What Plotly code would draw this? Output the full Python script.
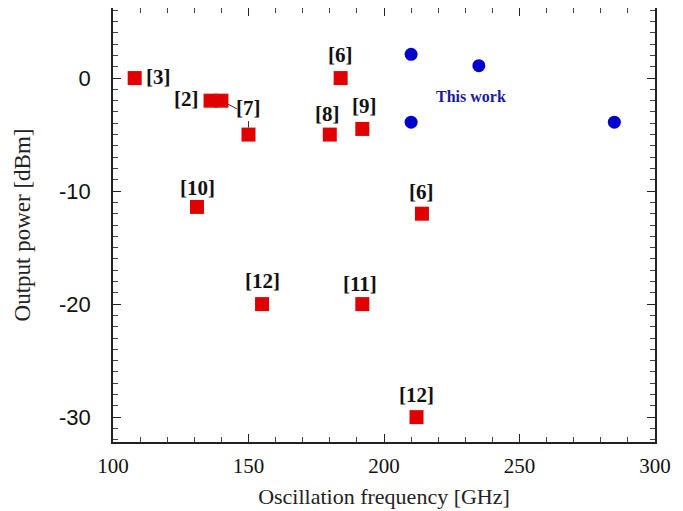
import plotly.graph_objects as go

# Reference works (red squares)
ref_freq = [108, 136, 140, 150, 184, 180, 192, 131, 214, 155, 192, 212]
ref_power = [0, -2, -2, -5, 0, -5, -4.5, -11.4, -12, -20, -20, -30]
ref_labels = ["[3]", "[2]", "", "[7]", "[6]", "[8]", "[9]", "[10]", "[6]", "[12]", "[11]", "[12]"]
# pixel offsets of each label relative to its marker (x, y)
label_dx = [24, -24, 0, 0, 0, -2, 2, 0, 0, 0, -2, 0]
label_dy = [1, 2, 0, 27, 23, 21, 23, 19, 22, 23, 20, 22]

# This work (blue circles)
tw_freq = [210, 235, 210, 285]
tw_power = [2.1, 1.1, -3.9, -3.9]

serif = "Liberation Serif, Times New Roman, serif"
sans = "Liberation Sans, Arial, sans-serif"

fig = go.Figure()
fig.add_trace(go.Scatter(x=ref_freq, y=ref_power, mode="markers",
                         marker=dict(symbol="square", size=14, color="#e00000"),
                         showlegend=False))
fig.add_trace(go.Scatter(x=tw_freq, y=tw_power, mode="markers",
                         marker=dict(symbol="circle", size=13, color="#0000cc"),
                         showlegend=False))

for x, y, t, dx, dy in zip(ref_freq, ref_power, ref_labels, label_dx, label_dy):
    if not t:
        continue
    if t == "[7]":
        fig.add_annotation(x=x, y=y, text="<b>[7]</b>", showarrow=True, ax=0, ay=-dy,
                           arrowhead=0, arrowwidth=1, arrowcolor="#333", standoff=7,
                           font=dict(family=serif, size=21, color="#111"))
    else:
        fig.add_annotation(x=x, y=y, text=f"<b>{t}</b>", showarrow=False, xshift=dx, yshift=dy,
                           font=dict(family=serif, size=21, color="#111"))

# connector from [2] to [7]
fig.add_annotation(x=ref_freq[2], y=ref_power[2], text="", showarrow=True, ax=17, ay=9,
                   arrowhead=0, arrowwidth=1, arrowcolor="#333", standoff=7)

fig.add_annotation(x=232, y=-1.6, text="<b>This work</b>", showarrow=False,
                   font=dict(family=serif, size=16, color="#1a1aa0"))

# page body has an 8px margin in the browser; margins compensate for it
fig.update_layout(
    width=683, height=511,
    margin=dict(l=105, r=36, t=0, b=77, autoexpand=False),
    plot_bgcolor="white", paper_bgcolor="white",
)
fig.update_xaxes(range=[100, 300], tickvals=[100, 150, 200, 250, 300],
                 ticks="inside", ticklen=8, tickcolor="#222", mirror="allticks",
                 showline=True, linecolor="#222", linewidth=1.5, showgrid=False, zeroline=False,
                 minor=dict(dtick=10, ticks="inside", ticklen=5, tickcolor="#444"),
                 tickfont=dict(family=serif, size=21, color="#111"), ticklabelstandoff=4,
                 automargin=False,
                 title=dict(text="Oscillation frequency [GHz]", font=dict(family=serif, size=22, color="#222"), standoff=12))
fig.update_yaxes(range=[-32.2, 6.2], tickvals=[0, -10, -20, -30], ticktext=["0", "-10", "-20", "-30"],
                 ticks="inside", ticklen=8, tickcolor="#222", mirror="allticks",
                 showline=True, linecolor="#222", linewidth=1.5, showgrid=False, zeroline=False,
                 minor=dict(dtick=1, ticks="inside", ticklen=5, tickcolor="#444"),
                 tickfont=dict(family=sans, size=22, color="#111"), ticklabelstandoff=16,
                 automargin=False,
                 title=dict(text="Output power [dBm]", font=dict(family=serif, size=23, color="#222"), standoff=22))

fig.write_html("out.html")
